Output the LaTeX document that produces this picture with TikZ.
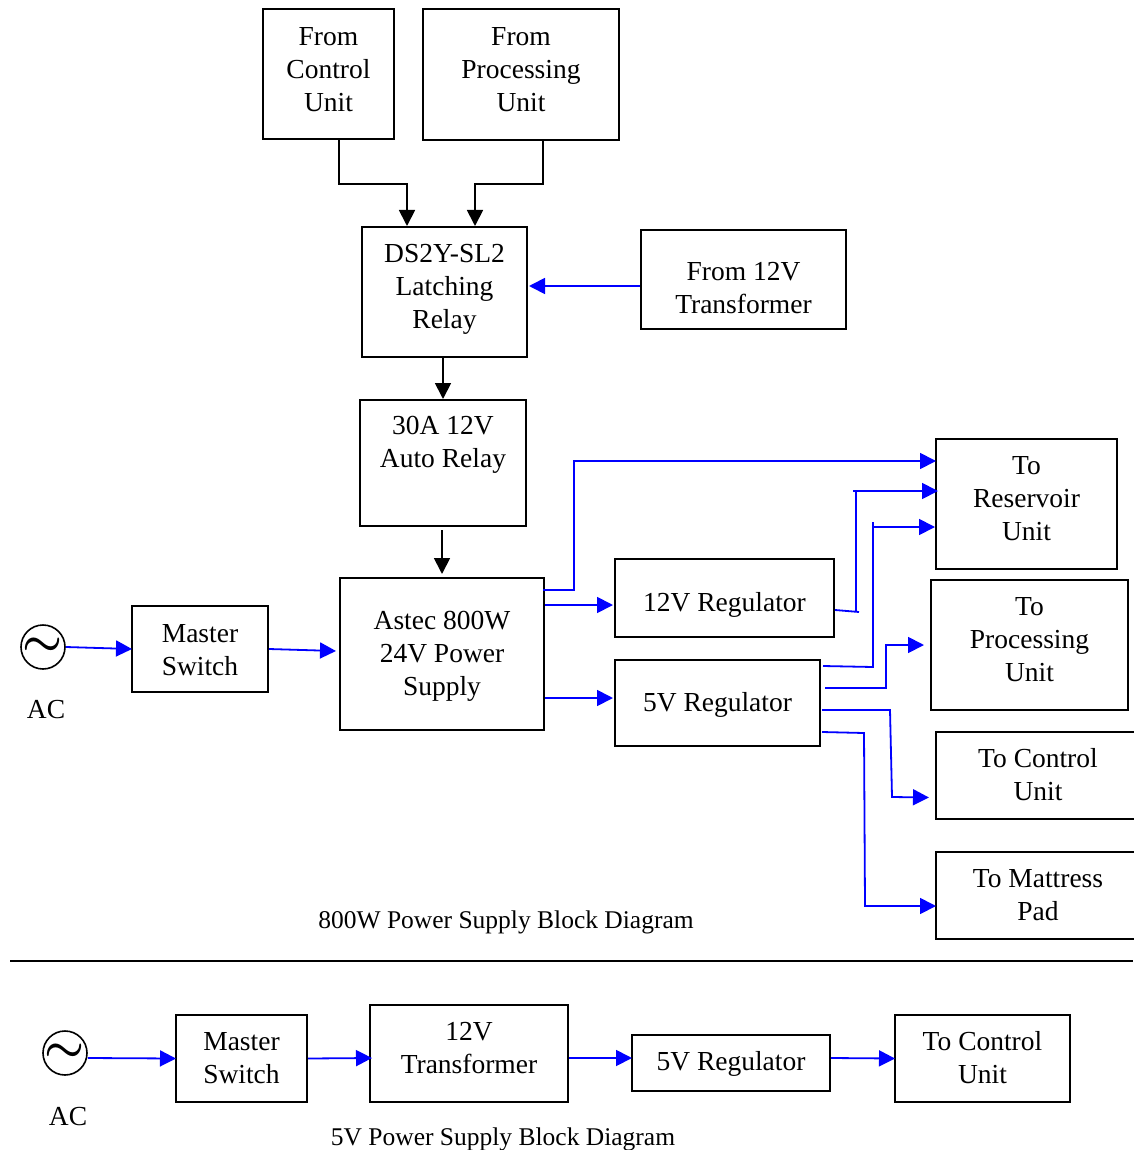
\documentclass[tikz,border=0pt]{standalone}
\usepackage{fontspec}
\setmainfont{Liberation Serif}
\usetikzlibrary{arrows.meta}
\newsavebox{\liftbox}
\newcommand{\lifted}[2]{\sbox{\liftbox}{\begin{tabular}{@{}c@{}}#2\end{tabular}}%
  \raisebox{\dimexpr#1pt-3pt-0.5\ht\liftbox+0.5\dp\liftbox\relax}[0pt][0pt]{\usebox{\liftbox}}}
\tikzset{
  blockbox/.style={draw, line width=2pt, align=center, inner sep=0pt, anchor=center,
    font=\fontsize{27.5}{33}\selectfont},
  plaintext/.style={font=\fontsize{27.5}{33}\selectfont},
  titletext/.style={font=\fontsize{25.5}{28}\selectfont},
  acsource/.style={draw, circle, line width=1.6pt, minimum size=44pt, inner sep=0pt,
    font=\fontsize{42}{42}\selectfont},
  blackline/.style={draw=black, line width=1.8pt, -{Triangle[length=16pt,width=16pt]}},
  blueline/.style={draw=blue, line width=1.8pt, -{Triangle[length=16pt,width=16pt]}},
  bluewire/.style={draw=blue, line width=1.8pt}
}
\begin{document}
\begin{tikzpicture}[x=1pt, y=-1pt]
    \useasboundingbox (0,0) rectangle (1133,1150);

    % Upper diagram, sources and relays
    \node[blockbox, minimum width=131pt, minimum height=130pt] (ctrlsrc) at (328.5,74) {\lifted{5}{From\\Control\\Unit}};
    \node[blockbox, minimum width=196pt, minimum height=131pt] (procsrc) at (521,74.5) {\lifted{5.5}{From\\Processing\\Unit}};
    \node[blockbox, minimum width=165pt, minimum height=130pt] (latch) at (444.5,292) {\lifted{6}{DS2Y-SL2\\Latching\\Relay}};
    \node[blockbox, minimum width=205pt, minimum height=99pt] (from12) at (743.5,279.5) {\lifted{-8}{From 12V\\Transformer}};
    \node[blockbox, minimum width=166pt, minimum height=126pt] (auto) at (443,463) {\lifted{21.5}{30A 12V\\Auto Relay}};

    % Upper diagram, supply row
    \node[acsource] (ac) at (43,647) {\scalebox{1.8}{\boldmath$\sim$}};
    \node[plaintext] (aclabel) at (46,710) {AC};
    \node[blockbox, minimum width=136pt, minimum height=86pt] (master) at (200,649) {\lifted{0}{Master\\Switch}};
    \node[blockbox, minimum width=204pt, minimum height=152pt] (astec) at (442,654) {\lifted{1}{Astec 800W\\24V Power\\Supply}};
    \node[blockbox, minimum width=219pt, minimum height=78pt] (regtwelve) at (724.5,598) {\lifted{-4}{12V Regulator}};
    \node[blockbox, minimum width=205pt, minimum height=86pt] (regfive) at (717.5,703) {\lifted{1}{5V Regulator}};

    % Upper diagram, loads
    \node[blockbox, minimum width=181pt, minimum height=130pt] (reservoir) at (1026.5,504) {\lifted{6}{To\\Reservoir\\Unit}};
    \node[blockbox, minimum width=197pt, minimum height=130pt] (procunit) at (1029.5,645) {\lifted{6}{To\\Processing\\Unit}};
    \node[blockbox, minimum width=204pt, minimum height=87pt] (ctrlunit) at (1038,775.5) {\lifted{1}{To Control\\Unit}};
    \node[blockbox, minimum width=204pt, minimum height=87pt] (mattress) at (1038,895.5) {\lifted{1}{To Mattress\\Pad}};
    \node[titletext] (toptitle) at (506,922) {800W Power Supply Block Diagram};

    % Black connectors
    \draw[blackline] ([xshift=10.5pt]ctrlsrc.south) -- ++(0,44) -| ([xshift=-37.5pt]latch.north);
    \draw[blackline] ([xshift=22pt]procsrc.south) -- ++(0,43) -| ([xshift=30.5pt]latch.north);
    \draw[blackline] ([xshift=-1.5pt]latch.south) -- (auto.north);
    \draw[blackline] ([xshift=-1pt,yshift=-3pt]auto.south) -- ([yshift=3pt]astec.north);

    % Blue connectors, supply row
    \draw[blueline] ([yshift=-6.5pt]from12.west) -- ([xshift=1pt]latch.east |- 0,286);
    \draw[blueline] (ac.east) -- ([xshift=1pt]master.west);
    \draw[blueline] (master.east) -- ([xshift=-3pt,yshift=3pt]astec.west);
    \draw[blueline] ([xshift=-2pt,yshift=64pt]astec.east) -- ++(31,0) |- ([xshift=1pt,yshift=43pt]reservoir.west);
    \draw[blueline] ([yshift=49pt]astec.east) -- ([xshift=-1pt,yshift=-7pt]regtwelve.west);
    \draw[blueline] ([yshift=-44pt]astec.east) -- ([xshift=-1pt,yshift=5pt]regfive.west);

    % Blue connectors, regulators to loads
    \coordinate (jointwelve) at (856,612);
    \coordinate (tiptwelve) at (856,491);
    \coordinate (jointfive) at (873,667);
    \coordinate (tipfive) at (873,522);
    \draw[bluewire] ([yshift=-12pt]regtwelve.east) -- ([xshift=3pt]jointwelve);
    \draw[bluewire] (jointwelve) -- (tiptwelve);
    \draw[blueline] ([xshift=-3pt]tiptwelve) -- ([xshift=3pt,yshift=13pt]reservoir.west);
    \draw[bluewire] ([xshift=2pt,yshift=37pt]regfive.east) -- (jointfive) -- (tipfive);
    \draw[blueline] ([yshift=-5pt]tipfive) -- ([yshift=-23pt]reservoir.west);
    \draw[blueline] ([xshift=4pt,yshift=15pt]regfive.east) -- ++(61,0) |- ([xshift=-6pt]procunit.west);
    \draw[blueline] ([xshift=1pt,yshift=-7pt]regfive.east) -- ++(68,0) -- ++(2,87) -- ([xshift=-6pt,yshift=-22pt]ctrlunit.west);
    \draw[blueline] ([xshift=1pt,yshift=-29pt]regfive.east) -- ++(42,1) -- ++(1,173) -- ([xshift=1pt]mattress.west |- 0,906);

    % Separator
    \coordinate (sepstart) at (10,961);
    \coordinate (sepend) at (1133,961);
    \draw[line width=1.6pt] (sepstart) -- (sepend);

    % Lower diagram
    \node[acsource] (acb) at (65,1053) {\scalebox{1.8}{\boldmath$\sim$}};
    \node[plaintext] (acblabel) at (68,1117) {AC};
    \node[blockbox, minimum width=131pt, minimum height=87pt] (masterb) at (241.5,1058.5) {\lifted{1}{Master\\Switch}};
    \node[blockbox, minimum width=198pt, minimum height=97pt] (trans) at (469,1053.5) {\lifted{6}{12V\\Transformer}};
    \node[blockbox, minimum width=198pt, minimum height=56pt] (regfiveb) at (731,1063) {\lifted{2}{5V Regulator}};
    \node[blockbox, minimum width=175pt, minimum height=87pt] (ctrlb) at (982.5,1058.5) {\lifted{1}{To Control\\Unit}};
    \node[titletext] (bottitle) at (503,1139) {5V Power Supply Block Diagram};

    \draw[blueline] ([yshift=-5pt]acb.east) -- ([xshift=1pt]masterb.west);
    \draw[blueline] (masterb.east) -- ([xshift=3pt,yshift=-4.5pt]trans.west);
    \draw[blueline] ([yshift=-4.5pt]trans.east) -- ([xshift=1pt]regfiveb.west |- 0,1058);
    \draw[blueline] (regfiveb.east |- 0,1058) -- ([xshift=1pt]ctrlb.west);
\end{tikzpicture}
\end{document}
